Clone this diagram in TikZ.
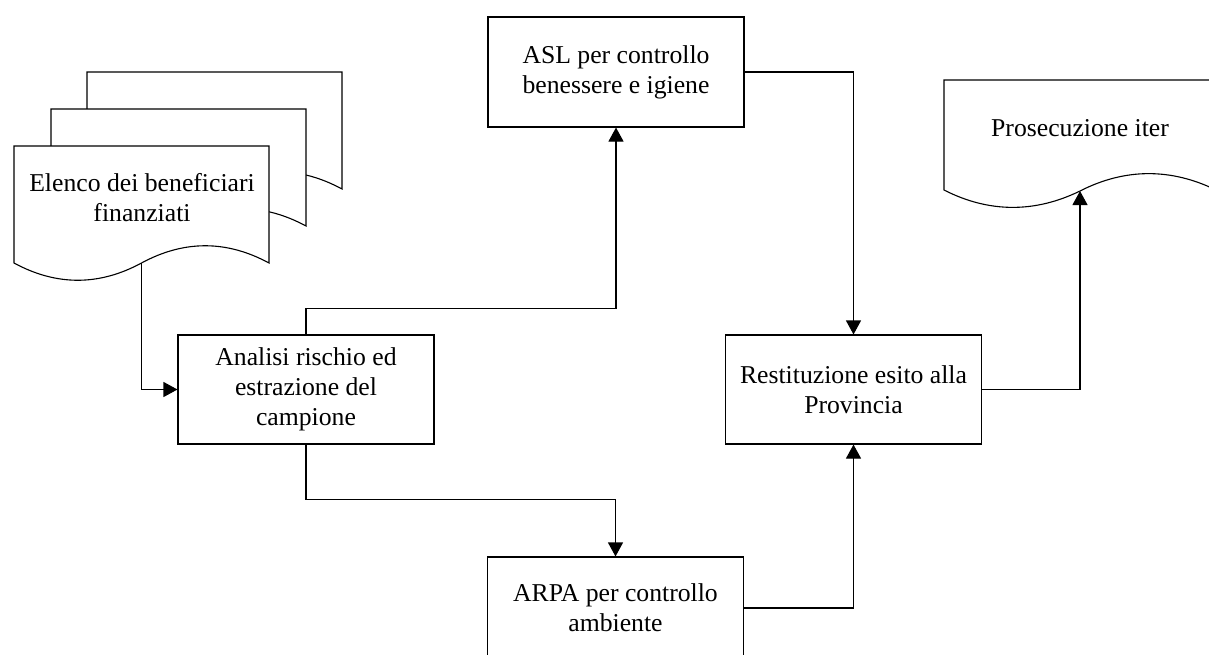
\documentclass[tikz,border=0pt]{standalone}
\usepackage{fontspec}
\setmainfont{Liberation Serif}
\usepackage{tikz}
\usetikzlibrary{arrows.meta,positioning,calc}

\begin{document}
\begin{tikzpicture}[x=1pt, y=1pt, line width=1.1pt,
    font=\fontsize{25.7}{30}\selectfont, align=center,
    box/.style={draw, rectangle, minimum width=256pt, minimum height=110pt, inner sep=0pt},
    flow/.style={-{Triangle[length=14pt,width=15pt]}}]
    \useasboundingbox (0,0) rectangle (1209,-654);
    \clip (0,0) rectangle (1209,-654);

    % Stack of documents (back to front)
    \foreach \dx/\dy in {73/74, 37/37, 0/0}
      \filldraw[fill=white, shift={(\dx,\dy)}] (14,-146) -- (14,-263)
        .. controls (56.5,-286) and (99,-286) .. (141.5,-263)
        .. controls (184,-240) and (226.5,-240) .. (269,-263)
        -- (269,-146) -- cycle;
    \node (elenco) at (142,-198) {Elenco dei beneficiari\\finanziati};
    \coordinate (elenco-out) at (141.5,-263);

    % Document: Prosecuzione iter
    \draw (944,-80) -- (944,-190)
      .. controls (989,-213) and (1035,-213) .. (1080,-191)
      .. controls (1125,-168) and (1171,-168) .. (1216,-190)
      -- (1216,-80) -- cycle;
    \node (prosecuzione) at (1080,-128) {Prosecuzione iter};
    \coordinate (prosecuzione-in) at (1080,-191);

    % Process boxes
    \node[box] (asl) at (616,-72) {ASL per controllo\\benessere e igiene};
    \node[box, minimum height=109pt] (analisi) at (306,-389.5) {Analisi rischio ed\\estrazione del\\campione};
    \node[box, minimum height=109pt] (restituzione) at (853.5,-389.5) {Restituzione esito alla\\Provincia};
    \node[box, minimum height=102pt] (arpa) at (615.5,-608) {ARPA per controllo\\ambiente};

    % Flow
    \draw[flow] (elenco-out) |- (analisi.west);
    \draw[flow] (analisi.north) -- ++(0,26) -| (asl.south);
    \draw[flow] (asl.east) -| (restituzione.north);
    \draw[flow] (analisi.south) -- ++(0,-55) -| (arpa.north);
    \draw[flow] (arpa.east) -| (restituzione.south);
    \draw[flow] (restituzione.east) -| (prosecuzione-in);
\end{tikzpicture}
\end{document}
